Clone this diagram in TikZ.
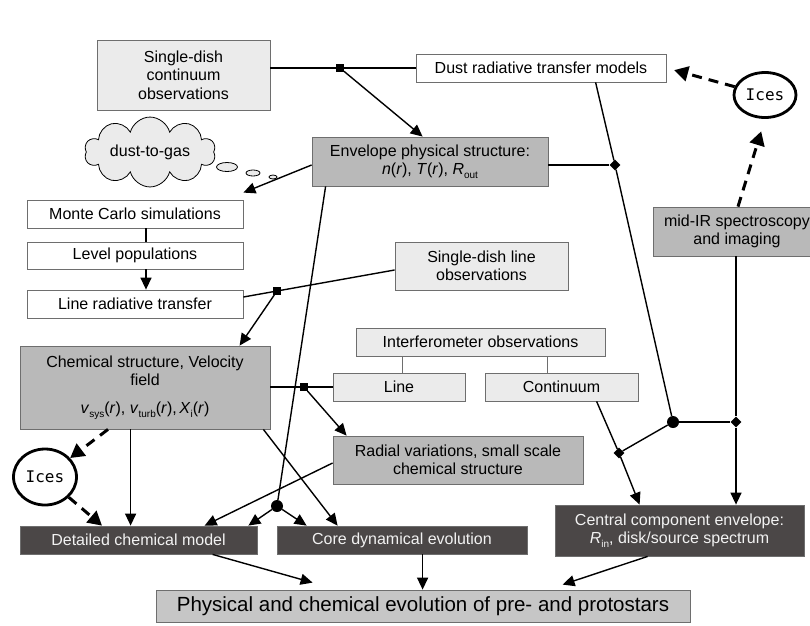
\documentclass[tikz,border=0pt]{standalone}
\usepackage{fontspec}
\setsansfont{Liberation Sans}
\newfontfamily\icesfont{DejaVu Sans Mono}
\renewcommand{\familydefault}{\sfdefault}
\usetikzlibrary{arrows.meta,shapes.geometric,shapes.symbols,calc}
\definecolor{lightfill}{HTML}{EBEBEB}
\definecolor{midfill}{HTML}{B9B9B9}
\definecolor{darkfill}{HTML}{4B4747}
\definecolor{botfill}{HTML}{C6C6C6}
\definecolor{bordercol}{HTML}{6E6E6E}
\definecolor{darktext}{HTML}{F2F2F2}
\newcommand{\sbs}[1]{\raisebox{-0.45ex}{\fontsize{10}{10}\selectfont #1}}
\begin{document}
\begin{tikzpicture}[x=1pt,y=-1pt,
  box/.style={draw=bordercol, line width=0.8pt, inner sep=0pt, align=center, font=\fontsize{16}{18.5}\selectfont},
  whitebox/.style={box, fill=white},
  lightbox/.style={box, fill=lightfill},
  midbox/.style={box, fill=midfill},
  darkbox/.style={box, fill=darkfill, text=darktext},
  arr/.style={line width=1.4pt, -{Triangle[length=12pt,width=11pt]}},
  conn/.style={line width=1.4pt},
  thinconn/.style={line width=0.7pt, draw=bordercol},
  dasharr/.style={line width=3pt, dash pattern=on 10pt off 7pt, -{Triangle[length=14pt,width=15pt]}},
  sqj/.style={fill=black, minimum size=7.5pt, inner sep=0pt},
  diaj/.style={diamond, fill=black, minimum size=11pt, inner sep=0pt},
  dotj/.style={circle, fill=black, minimum size=12pt, inner sep=0pt},
  icesnode/.style={ellipse, draw, line width=2.8pt, fill=white, font=\icesfont\fontsize{16}{18}\selectfont, inner sep=0pt},
  bubble/.style={ellipse, draw, line width=0.8pt, fill=lightfill, inner sep=0pt}
]
\useasboundingbox[fill=white] (0,0) rectangle (810,625);

% boxes
\node[lightbox, minimum width=173pt, minimum height=70pt] (sdc) at (183.5,75) {Single-dish\\continuum\\observations};
\node[whitebox, minimum width=250pt, minimum height=28pt] (drt) at (541,68) {Dust radiative transfer models};
\node[midbox, minimum width=236pt, minimum height=49pt] (env) at (430,161.5) {Envelope physical structure:\\\textit{n}(\textit{r}), \textit{T}(\textit{r}), \textit{R}\sbs{out}};
\node[whitebox, minimum width=216pt, minimum height=28pt] (mc) at (135,214) {Monte Carlo simulations};
\node[whitebox, minimum width=216pt, minimum height=27pt] (lp) at (135,255.5) {Level populations};
\node[whitebox, minimum width=216pt, minimum height=28pt] (lrt) at (135,304) {Line radiative transfer};
\node[lightbox, minimum width=173pt, minimum height=48pt] (sdl) at (481.5,266) {Single-dish line\\observations};
\node[midbox, minimum width=168pt, minimum height=49pt] (midir) at (737,231.5) {mid-IR spectroscopy\\and imaging};
\node[midbox, minimum width=250pt, minimum height=83pt] (chem) at (145,387.5) {Chemical structure, Velocity\\field\\[9pt]\textit{v}\sbs{sys}(\textit{r}), \textit{v}\sbs{turb}(\textit{r}),\,\textit{X}\sbs{i}(\textit{r})};
\node[lightbox, minimum width=249pt, minimum height=28pt] (interf) at (480.5,342) {Interferometer observations};
\node[lightbox, minimum width=132pt, minimum height=28pt] (line) at (399,387) {Line};
\node[lightbox, minimum width=153pt, minimum height=28pt] (cont) at (561.5,387) {Continuum};
\node[midbox, minimum width=250pt, minimum height=48pt] (radial) at (458,460) {Radial variations, small scale\\chemical structure};
\node[darkbox, minimum width=237pt, minimum height=28pt] (det) at (138.5,540) {Detailed chemical model};
\node[darkbox, minimum width=250pt, minimum height=28pt] (core) at (402,540) {Core dynamical evolution};
\node[darkbox, minimum width=249pt, minimum height=51pt] (central) at (679.5,530.5) {Central component envelope:\\\textit{R}\sbs{in}, disk/source spectrum};
\node[box, fill=botfill, minimum width=534pt, minimum height=32pt, font=\fontsize{20.5}{22}\selectfont] (phys) at (423,606) {Physical and chemical evolution of pre- and protostars};

\node[icesnode, minimum width=62pt, minimum height=45pt] (ices1) at (765,95) {Ices};
\node[icesnode, minimum width=63pt, minimum height=56pt] (ices2) at (45,477) {Ices};

\node[cloud, cloud puffs=10, aspect=2.5, draw=black, line width=0.8pt, fill=lightfill, minimum width=131pt, minimum height=53pt, inner sep=0pt, font=\fontsize{16}{18}\selectfont] (cloud) at (150,152) {dust-to-gas};
\node[bubble, minimum width=21pt, minimum height=9pt] (b1) at (227,167) {};
\node[bubble, minimum width=14pt, minimum height=6pt] (b2) at (253,173) {};
\node[bubble, minimum width=8pt, minimum height=4pt] (b3) at (273,177) {};

% junctions
\node[sqj] (j1) at (340,68) {};
\node[diaj] (d1) at (615,165) {};
\node[dotj] (dot1) at (673,422) {};
\node[diaj] (d2) at (736,422) {};
\node[diaj] (d3) at (619,453) {};
\node[sqj] (j2) at (277,291) {};
\node[sqj] (j3) at (304,387) {};
\node[dotj] (dot2) at (277,506) {};

\coordinate (mctip) at ($(mc.north east)+(0,-7)$);
\coordinate (pt1) at ($(phys.north west)+(157,-7)$);
\coordinate (pt2) at ($(phys.north west)+(407,-5)$);

% connectors
\draw[conn] (sdc.east |- j1) -- (j1) -- (drt.west |- j1);
\draw[arr] (j1) -- ($(env.north west)+(111,0)$);
\draw[conn] (env.east |- d1) -- (d1);
\draw[conn] ($(drt.south west)+(180,0)$) -- (d1) -- (dot1);
\draw[conn] (dot1) -- (d2);
\draw[arr] (d2 |- midir.south) -- (d2) -- (d2 |- central.north);
\draw[conn] (dot1) -- (d3);
\draw[arr] ($(cont.south west)+(112,0)$) -- (d3) -- ($(central.north west)+(85,0)$);
\draw[dasharr, shorten >=8pt] (ices1) -- (drt.east);
\draw[dasharr, shorten >=13pt] ($(midir.north)+(1,0)$) -- (ices1.south);
\draw[arr] ($(env.west)+(0,3.5)$) -- (mctip);
\draw[conn] ($(mc.south)+(11,0)$) -- ($(lp.north)+(11,0)$);
\draw[arr] ($(lp.south)+(11,0)$) -- ($(lrt.north)+(11,0)$);
\draw[conn] ($(sdl.west)+(0,4)$) -- (j2) -- ($(lrt.east)+(0,-7)$);
\draw[arr] (j2) -- ($(chem.north west)+(220,0)$);
\draw[conn] ($(env.south west)+(14,0)$) -- (dot2);
\draw[arr] (dot2) -- ($(det.north east)+(-9,0)$);
\draw[arr] (dot2) -- ($(core.north west)+(30,0)$);
\draw[conn] (chem.east |- j3) -- (j3) -- (line.west |- j3);
\draw[arr] (j3) -- ($(radial.north west)+(14,0)$);
\draw[arr] ($(radial.west)+(0,3)$) -- ($(det.north west)+(185,0)$);
\draw[arr] ($(chem.south east)+(-7,0)$) -- ($(core.north west)+(61,0)$);
\draw[arr] ($(chem.south west)+(111,0)$) -- ($(det.north west)+(111,0)$);
\draw[dasharr] ($(chem.south)+(-37,0)$) -- (ices2);
\draw[dasharr] (ices2) -- ($(det.north)+(-36.5,0)$);
\draw[thinconn] ($(interf.south west)+(47,0)$) -- ($(line.north west)+(70,0)$);
\draw[thinconn] ($(interf.south west)+(192,0)$) -- ($(cont.north west)+(63,0)$);
\draw[arr] ($(det.south west)+(193,0)$) -- (pt1);
\draw[arr] ($(core.south west)+(146,0)$) -- ($(phys.north west)+(267,0)$);
\draw[arr] ($(central.south west)+(93,0)$) -- (pt2);
\end{tikzpicture}
\end{document}
